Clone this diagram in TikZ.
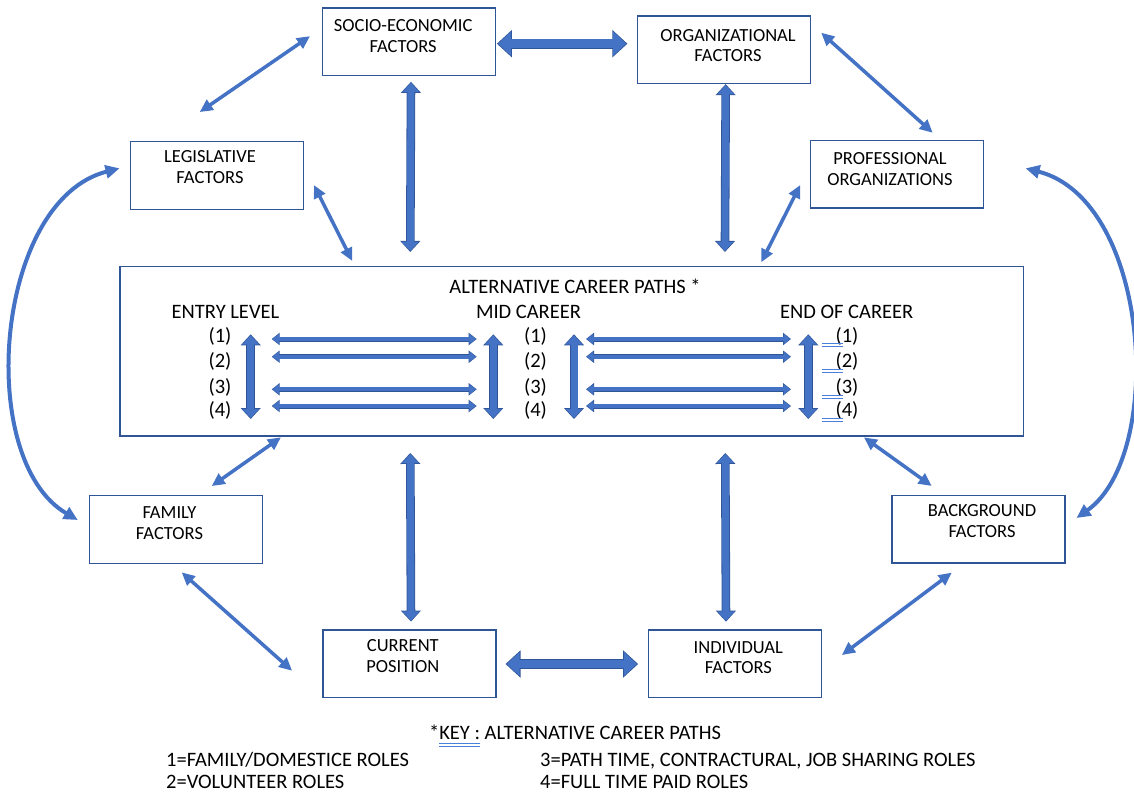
\documentclass[tikz,border=0pt]{standalone}
\usepackage{fontspec}
\setmainfont{Carlito}
\usetikzlibrary{arrows.meta,calc}
\definecolor{edgeblue}{HTML}{2F5597}
\definecolor{arrowblue}{HTML}{4472C4}
\definecolor{ulblue}{HTML}{4A7FDB}
\newcommand\dblul[1]{\setbox0\hbox{#1}\rlap{\color{ulblue}\rule[-4pt]{\wd0}{1pt}}\rlap{\color{ulblue}\rule[-7pt]{\wd0}{1pt}}\box0\relax}
\begin{document}
\begin{tikzpicture}[x=1pt,y=-1pt,
  box/.style={draw=edgeblue, line width=1.4pt, minimum width=173pt, minimum height=67.5pt, inner sep=0pt},
  boxtext/.style={align=center, inner sep=0pt, font=\fontsize{18.5}{20.6}\selectfont},
  txt/.style={inner sep=0pt, font=\fontsize{20.5}{22}\selectfont},
  link/.style={draw=arrowblue, line width=3.5pt, {Triangle[length=13pt,width=12pt]}-{Triangle[length=13pt,width=12pt]}},
  curve/.style={draw=arrowblue, line width=4pt, {Triangle[length=14pt,width=13pt]}-{Triangle[length=14pt,width=13pt]}},
  fatv/.style={preaction={draw=edgeblue, line width=8.6pt, shorten >=0pt, shorten <=0pt, {Triangle[length=11pt,width=19.5pt]}-{Triangle[length=11pt,width=19.5pt]}}, draw=arrowblue, line width=7pt, shorten >=1pt, shorten <=1pt, {Triangle[length=9.2pt,width=16.5pt]}-{Triangle[length=9.2pt,width=16.5pt]}},
  fath/.style={preaction={draw=edgeblue, line width=10.4pt, shorten >=0pt, shorten <=0pt, {Triangle[length=15pt,width=26.5pt]}-{Triangle[length=15pt,width=26.5pt]}}, draw=arrowblue, line width=8.8pt, shorten >=1.2pt, shorten <=1.2pt, {Triangle[length=13pt,width=23.5pt]}-{Triangle[length=13pt,width=23.5pt]}},
  slim/.style={preaction={draw=edgeblue, line width=5pt, shorten >=0pt, shorten <=0pt, {Triangle[length=8pt,width=12pt]}-{Triangle[length=8pt,width=12pt]}}, draw=arrowblue, line width=3.8pt, shorten >=0.8pt, shorten <=0.8pt, {Triangle[length=6.6pt,width=10pt]}-{Triangle[length=6.6pt,width=10pt]}},
  dblline/.style={draw=ulblue, line width=1pt}
]
\useasboundingbox (0,0) rectangle (1134,796);

% boxes
\node[box] (soc) at (409.2,41.7) {};
\node[box] (org) at (724,49.7) {};
\node[box] (leg) at (216.7,175.5) {};
\node[box] (prof) at (896.7,174.2) {};
\node[box, minimum width=903.7pt, minimum height=169.3pt] (cen) at (571.8,351.3) {};
\node[box] (fam) at (176,529.5) {};
\node[box] (bg) at (978.3,529.2) {};
\node[box] (cur) at (409.3,663.7) {};
\node[box] (ind) at (734.7,663.8) {};

% box texts
\node[boxtext] (socT) at ($(soc.center)+(-6,-5.7)$) {SOCIO-ECONOMIC\\FACTORS};
\node[boxtext] (orgT) at ($(org.center)+(4,-4.2)$) {ORGANIZATIONAL\\FACTORS};
\node[boxtext] (legT) at ($(leg.center)+(-6.7,-8.2)$) {LEGISLATIVE\\FACTORS};
\node[boxtext] (profT) at ($(prof.center)+(-6.7,-5.2)$) {PROFESSIONAL\\ORGANIZATIONS};
\node[boxtext] (famT) at ($(fam.center)+(-6.5,-6.1)$) {FAMILY\\FACTORS};
\node[boxtext] (bgT) at ($(bg.center)+(3.7,-8.2)$) {BACKGROUND\\FACTORS};
\node[boxtext] (curT) at ($(cur.center)+(-6.5,-7.7)$) {CURRENT\\POSITION};
\node[boxtext] (indT) at ($(ind.center)+(3.6,-6)$) {INDIVIDUAL\\FACTORS};

% central contents
\node[txt] (title) at (575,286.7) {ALTERNATIVE CAREER PATHS *};
\node[txt] (entry) at (225.5,312.3) {ENTRY LEVEL};
\node[txt] (midc) at (528.5,312) {MID CAREER};
\node[txt] (endc) at (846.7,312) {END OF CAREER};
\foreach \k/\yy in {1/336,2/361.7,3/387.7,4/410.7}{
  \node[txt] (en\k) at (220,\yy) {(\k)};
  \node[txt] (md\k) at (535.5,\yy) {(\k)};
  \node[txt] (nd\k) at (847,\yy) {(\k)};
}
\foreach \k in {1,2,3,4}{
  \draw[dblline] ($(nd\k)+(-24.7,7.5)$) -- ($(nd\k)+(-4.3,7.5)$);
  \draw[dblline] ($(nd\k)+(-24.7,10.5)$) -- ($(nd\k)+(-4.3,10.5)$);
}
\foreach \k/\dy in {1/3,2/-5,3/1.6,4/-4.7}{
  \draw[slim] ($(en\k)+(51.7,\dy)$) -- ($(md\k)+(-58.8,\dy)$);
  \draw[slim] ($(md\k)+(50.5,\dy)$) -- ($(nd\k)+(-56,\dy)$);
}
\draw[fatv] ($(en1)+(30.7,-1.7)$) -- ($(en4)+(30.7,8.3)$);
\draw[fatv] ($(md1)+(-42.2,-1.7)$) -- ($(md4)+(-42.2,8.3)$);
\draw[fatv] ($(md1)+(38.5,-1.7)$) -- ($(md4)+(38.5,8.3)$);
\draw[fatv] ($(nd1)+(-38.7,-1.7)$) -- ($(nd4)+(-38.7,8.3)$);

% thin links
\draw[link] ($(soc.west)+(-12,-5.5)$) -- ($(leg.north)+(-17,-29)$);
\draw[link] ($(org.east)+(10,-17)$) -- ($(prof.north)+(36,-7)$);
\draw[link] ($(leg.east)+(10,9.5)$) -- ($(cen.north west)+(233,-5)$);
\draw[link] ($(prof.west)+(-9.3,10.8)$) -- ($(cen.north west)+(642,-3.7)$);
\draw[link] ($(cen.south west)+(161.7,0.7)$) -- ($(fam.north)+(35.7,-9)$);
\draw[link] ($(cen.south east)+(-160.4,0.7)$) -- ($(bg.north)+(-46.6,-8.8)$);
\draw[link] ($(fam.south)+(5.7,8.4)$) -- ($(cur.west)+(-30,7)$);
\draw[link] ($(bg.south)+(-26.6,9)$) -- ($(ind.east)+(20,-8.8)$);

% fat links
\draw[fath] ($(soc.east)+(0.5,2)$) -- ($(org.west)+(-9.4,-6)$);
\draw[fatv] ($(soc.south)+(1.8,5.7)$) -- ($(cen.north west)+(291,-14)$);
\draw[fatv] ($(org.south)+(1.7,0)$) -- ($(cen.north west)+(605.7,-14)$);
\draw[fatv] ($(cen.south west)+(291,16.3)$) -- ($(cur.north)+(1.7,-7.7)$);
\draw[fatv] ($(cen.south west)+(606,16.3)$) -- ($(ind.north)+(-8.7,-7.7)$);
\draw[fath] ($(cur.east)+(9,0.3)$) -- ($(ind.west)+(-9.4,0.2)$);

% curved links
\draw[curve] ($(leg.west)+(-10,-7.2)$) .. controls +(-125,32) and +(-103,-60) .. ($(fam.west)+(-11,-9.5)$);
\draw[curve] ($(prof.east)+(41.7,-5.9)$) .. controls +(125,32) and +(89,-63) .. ($(bg.east)+(11,-11.2)$);

% key
\node[txt, anchor=base] (keyT) at (575,739.6) {*\dblul{KEY :} ALTERNATIVE CAREER PATHS};
\node[txt, anchor=base west] (k1) at (166,766.6) {1=FAMILY/DOMESTICE ROLES};
\node[txt, anchor=base west] (k2) at (166,788.6) {2=VOLUNTEER ROLES};
\node[txt, anchor=base west] (k3) at (540,766.6) {3=PATH TIME, CONTRACTURAL, JOB SHARING ROLES};
\node[txt, anchor=base west] (k4) at (540,788.6) {4=FULL TIME PAID ROLES};
\end{tikzpicture}
\end{document}
